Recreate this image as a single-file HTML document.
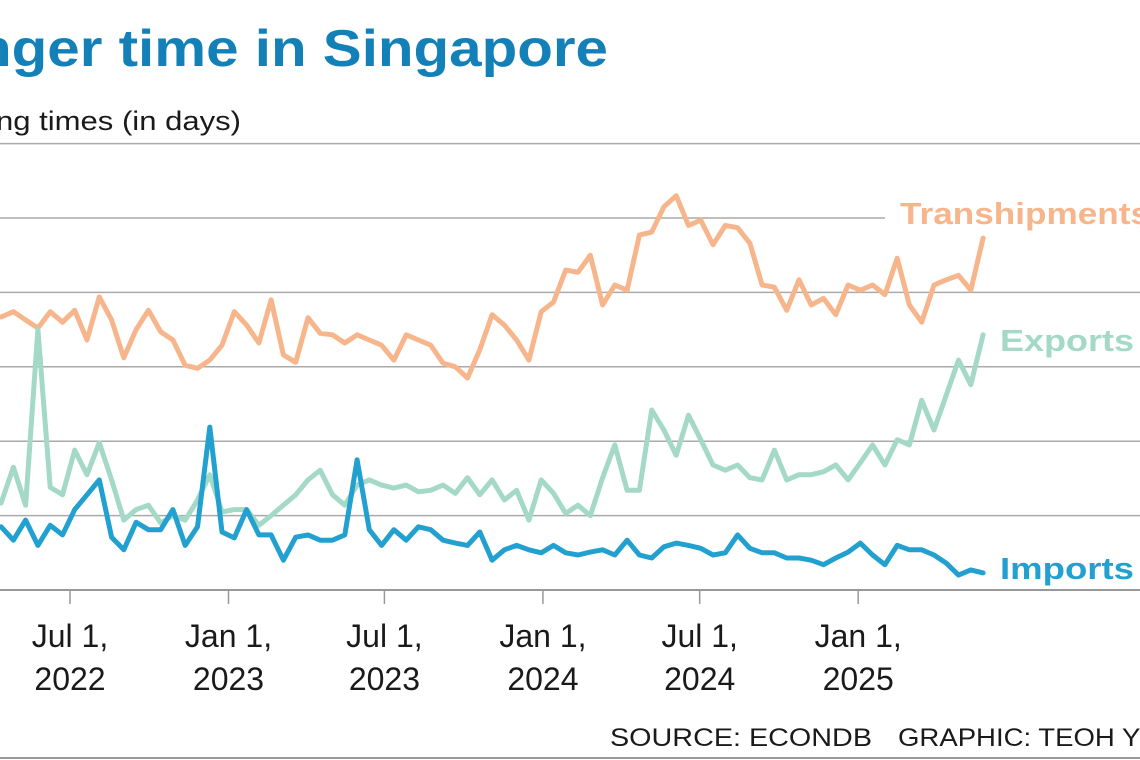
<!DOCTYPE html>
<html><head><meta charset="utf-8"><style>
html,body{margin:0;padding:0;background:#fff;}
svg{display:block;font-family:"Liberation Sans",sans-serif;}
</style></head><body>
<svg id="chart" width="1140" height="760" viewBox="0 0 1140 760">
<text x="-24" y="66" font-size="52" font-weight="bold" fill="#1381b8" textLength="632" lengthAdjust="spacingAndGlyphs">nger time in Singapore</text>
<text x="-4" y="130" font-size="27" fill="#1a1a1a" textLength="245" lengthAdjust="spacingAndGlyphs">ng times (in days)</text>
<g id="grid"></g>
<g id="xaxis"></g>
<g id="series"></g>
<text x="900" y="224" font-size="31" font-weight="bold" fill="#f7b58c" textLength="250" lengthAdjust="spacingAndGlyphs">Transhipments</text>
<text x="1000" y="351" font-size="31" font-weight="bold" fill="#a3d9c6" textLength="134" lengthAdjust="spacingAndGlyphs">Exports</text>
<text x="1000" y="579" font-size="31" font-weight="bold" fill="#22a0cf" textLength="134" lengthAdjust="spacingAndGlyphs">Imports</text>
<text x="610" y="746" font-size="25" fill="#1a1a1a" textLength="262" lengthAdjust="spacingAndGlyphs">SOURCE: ECONDB</text>
<text x="898" y="746" font-size="25" fill="#1a1a1a" textLength="250" lengthAdjust="spacingAndGlyphs">GRAPHIC: TEOH YI</text>
<line x1="0" y1="758" x2="1140" y2="758" stroke="#999" stroke-width="2"/>
</svg>
<script>
const startDate = "2022-04-12";
const stepDays = 14.25;
const yTicks = [0, 10, 20, 30, 40, 50, 60];
const xTickDates = ["2022-07-01","2023-01-01","2023-07-01","2024-01-01","2024-07-01","2025-01-01"];
const xTickLabels = [["Jul 1,","2022"],["Jan 1,","2023"],["Jul 1,","2023"],["Jan 1,","2024"],["Jul 1,","2024"],["Jan 1,","2025"]];
const transhipments = [36.7,37.4,36.3,35.2,37.4,36,37.6,33.6,39.4,36.3,31.2,35,37.6,34.7,33.6,30.2,29.8,30.9,32.9,37.4,35.6,33.2,39,31.6,30.6,36.6,34.5,34.3,33.2,34.3,33.6,32.9,30.9,34.3,33.6,32.9,30.5,30,28.5,32.3,37,35.6,33.6,30.9,37.4,38.7,43,42.7,45,38.3,41,40.3,47.7,48.1,51.5,53,49,49.7,46.4,49,48.7,46.6,41,40.7,37.6,41.7,38.3,39.2,37,41,40.3,41,39.7,44.6,38.3,36,41,41.7,42.3,40.3,47.3];
const exportsData = [11.7,16.5,11.4,35,13.8,12.8,18.8,15.5,19.8,14.8,9.4,10.8,11.4,9,10,9.4,12.1,15.5,10.5,10.8,10.8,8.7,10,11.4,12.8,14.8,16.1,12.8,11.4,14.1,14.8,14.1,13.7,14.1,13.2,13.4,14.1,13,15.1,12.8,14.8,12.1,13.4,9.4,14.8,13,10.3,11.4,10,15.1,19.5,13.4,13.4,24.2,21.5,18.1,23.5,20.2,16.8,16.1,16.8,15.1,14.8,18.8,14.8,15.5,15.5,15.9,16.8,14.8,17.1,19.5,16.8,20.2,19.5,25.5,21.5,26.2,30.9,27.6,34.3];
const importsData = [8.5,6.7,9.4,6,8.7,7.4,10.8,12.8,14.8,7.1,5.4,9.1,8.1,8.1,10.8,6,8.5,21.9,7.8,7,10.8,7.4,7.4,4,7.1,7.4,6.7,6.7,7.4,17.5,8.1,6,8.1,6.7,8.5,8.1,6.7,6.3,6,7.8,4,5.4,6,5.4,5,6,5,4.7,5.1,5.4,4.7,6.7,4.7,4.3,5.8,6.3,6,5.6,4.7,5,7.4,5.6,5,5,4.3,4.3,4,3.4,4.3,5.1,6.3,4.7,3.4,6,5.4,5.4,4.7,3.6,2,2.7,2.3];

const NS = "http://www.w3.org/2000/svg";
const day = 86400000;
const t0 = Date.parse("2022-07-01");
function xScale(ms){ return 70 + (ms - t0) / day * (158.5/184); }
function yScale(v){ return 590 - v * 7.44; }
function dateAt(i){ return Date.parse(startDate) + i * stepDays * day; }

const grid = document.getElementById('grid');
yTicks.forEach(function(v){
  const l = document.createElementNS(NS,'line');
  
  
  l.setAttribute('x1', 0);
  l.setAttribute('x2', v === 50 ? 885 : 1140);
  l.setAttribute('y1', yScale(v));
  l.setAttribute('y2', yScale(v));
  l.setAttribute('stroke', v === 0 ? '#999' : '#aaa');
  l.setAttribute('stroke-width', v === 0 ? 2 : 1.5);
  grid.appendChild(l);
});
const xa = document.getElementById('xaxis');
xTickDates.forEach(function(d, i){
  const x = xScale(Date.parse(d));
  const t = document.createElementNS(NS,'line');
  
  
  t.setAttribute('x1', x); t.setAttribute('x2', x);
  t.setAttribute('y1', 590); t.setAttribute('y2', 604);
  t.setAttribute('stroke', '#999'); t.setAttribute('stroke-width', 1.5);
  xa.appendChild(t);
  xTickLabels[i].forEach(function(s, k){
    const tx = document.createElementNS(NS,'text');
    
    
    tx.setAttribute('x', x);
    tx.setAttribute('y', 647 + k * 43);
    tx.setAttribute('text-anchor', 'middle');
    tx.setAttribute('font-size', '32');
    tx.setAttribute('fill', '#1a1a1a');
    tx.textContent = s;
    xa.appendChild(tx);
  });
});
const ser = document.getElementById('series');
[[transhipments,'#f7b58c','transhipments-line'],[exportsData,'#a3d9c6','exports-line'],[importsData,'#22a0cf','imports-line']].forEach(function(s){
  const p = document.createElementNS(NS,'polyline');
  
  
  p.setAttribute('points', s[0].map(function(v,i){ return xScale(dateAt(i)).toFixed(1)+','+yScale(v).toFixed(1); }).join(' '));
  p.setAttribute('fill', 'none');
  p.setAttribute('stroke', s[1]);
  p.setAttribute('stroke-width', 5);
  p.setAttribute('stroke-linejoin', 'round');
  p.setAttribute('stroke-linecap', 'round');
  ser.appendChild(p);
});
</script>
</body></html>
